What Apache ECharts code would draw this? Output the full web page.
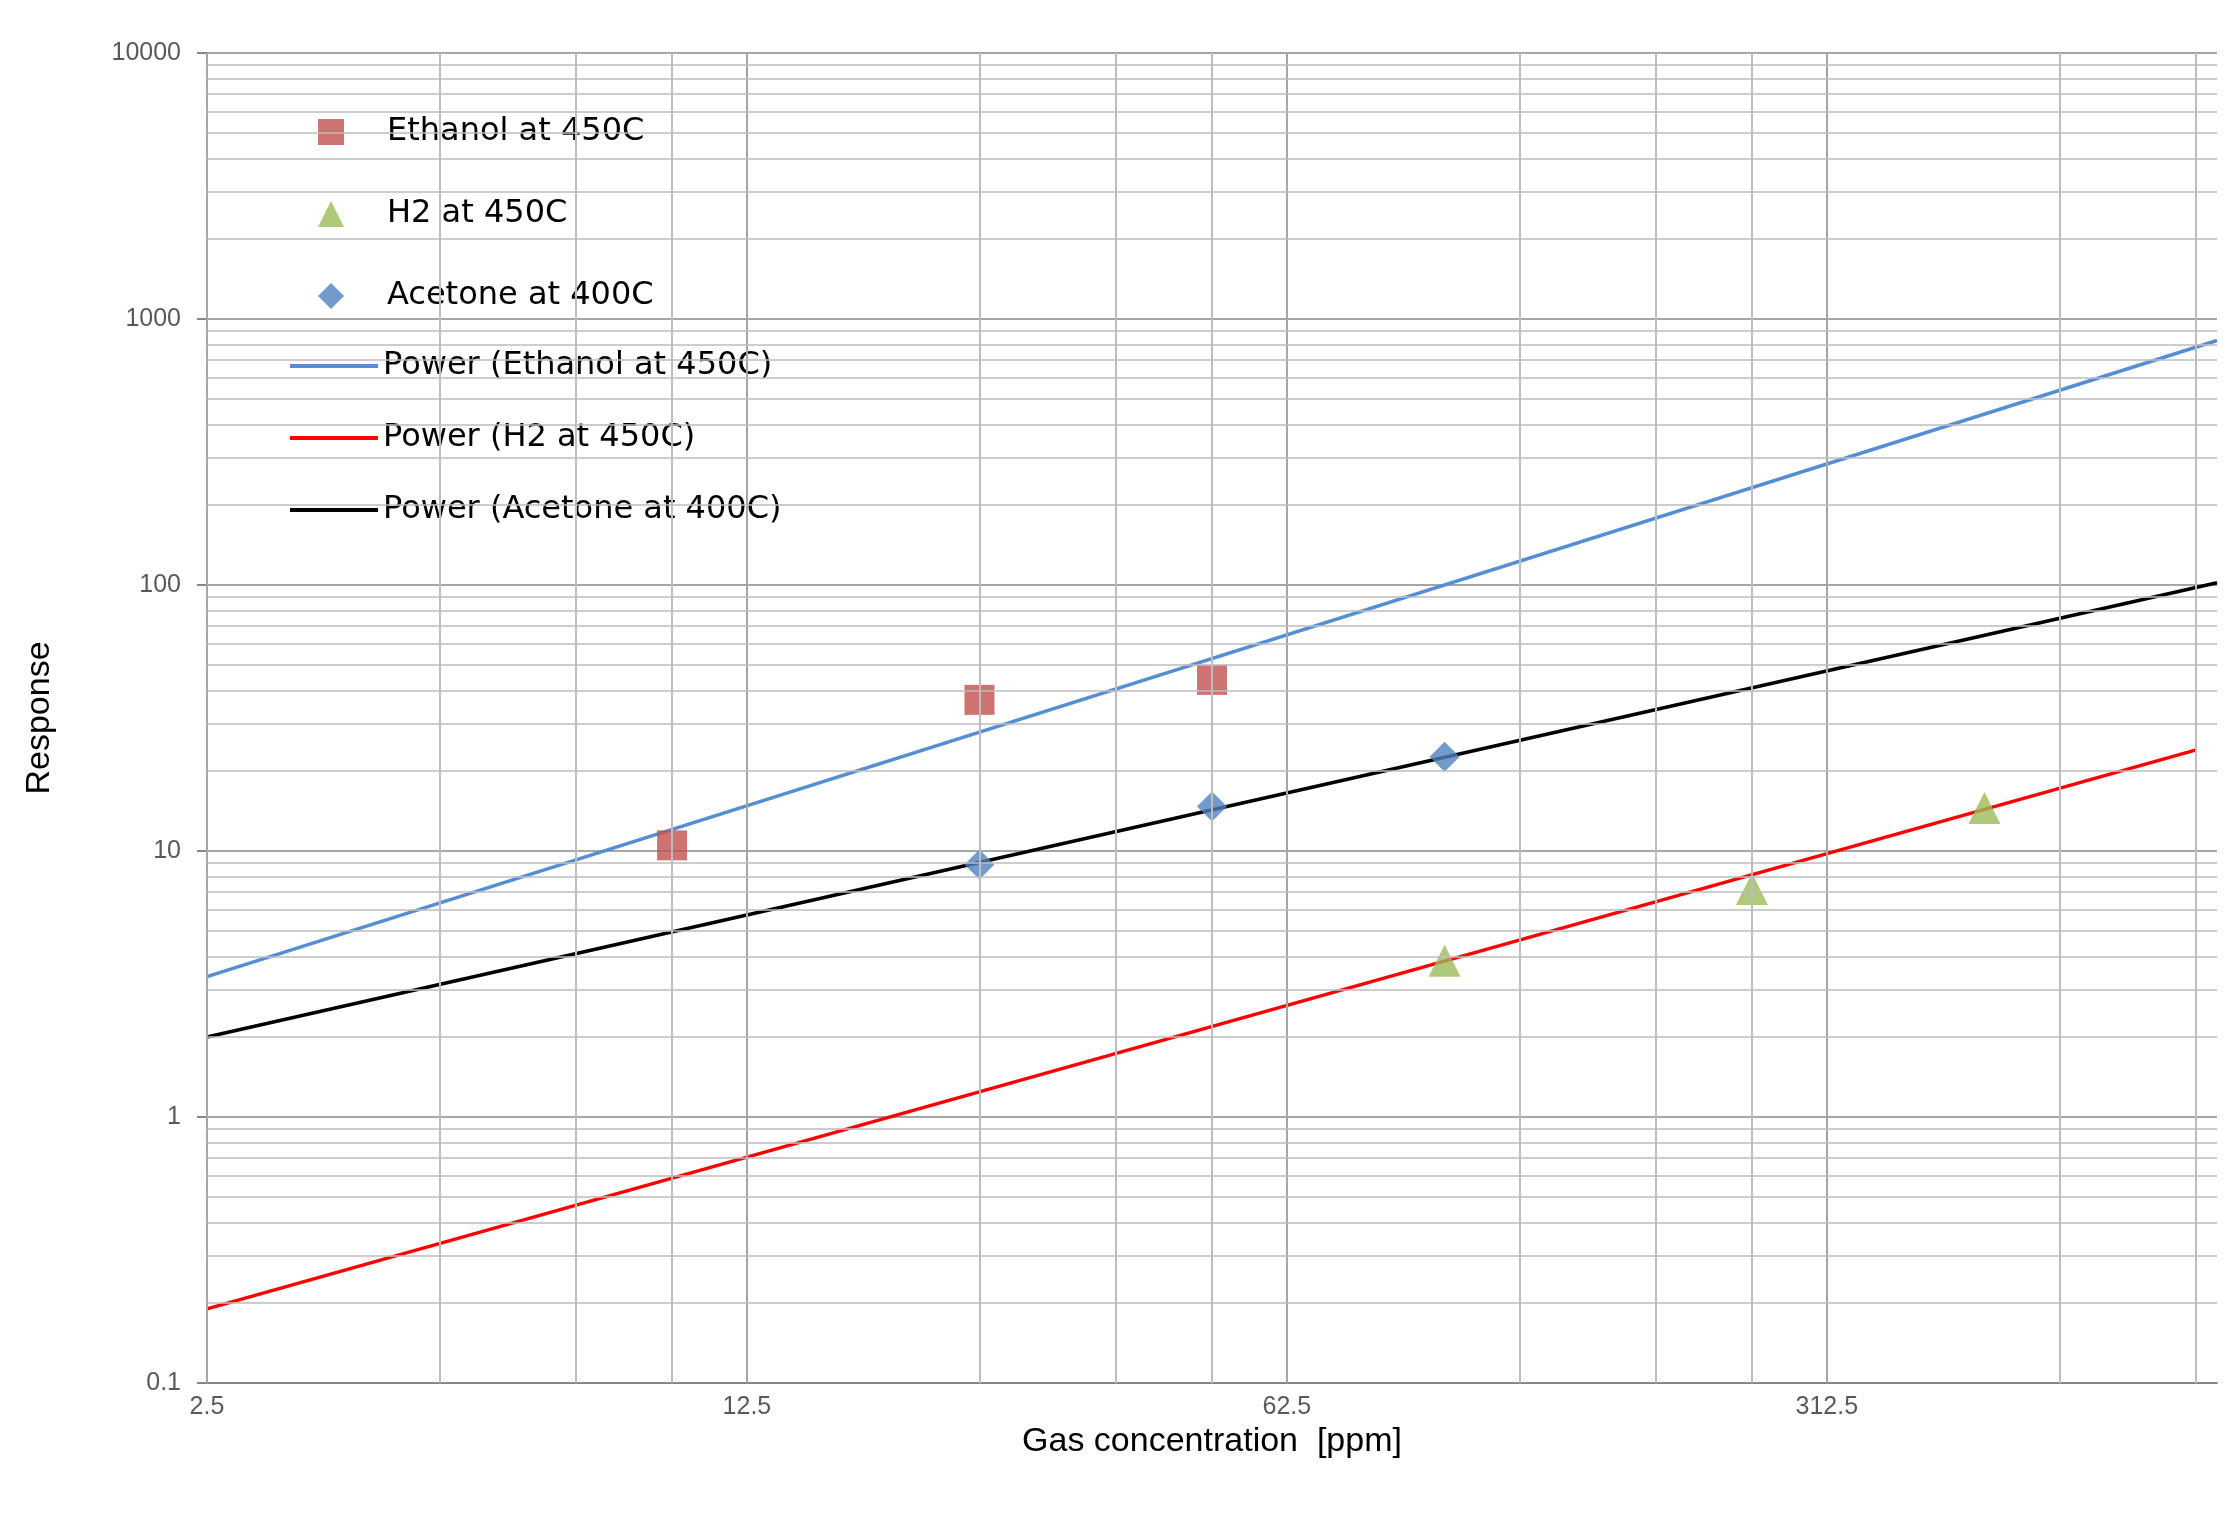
<!DOCTYPE html>
<html><head><meta charset="utf-8">
<script src="https://cdn.jsdelivr.net/npm/echarts@6/dist/echarts.min.js"></script>
<style>html,body{margin:0;padding:0;background:#fff}#c{width:2236px;height:1521px}</style>
</head><body><div id="c"></div>
<script>
const ethanol = [[10,10.5],[25,37],[50,44]];
const h2 = [[100,3.87],[250,7.2],[500,14.5]];
const acetone = [[25,8.9],[50,14.7],[100,22.6]];
const fitEthanol = [[2.5,3.37],[1000,830]];
const fitH2 = [[2.5,0.19],[940,24]];
const fitAcetone = [[2.5,2.0],[1000,102]];
const xMajor = [2.5,12.5,62.5,312.5];
const xMinor = [5,7.5,10,25,37.5,50,125,187.5,250,625,937.5];
const yMinorMult = [2,3,4,5,6,7,8,9];
const yDecades = [0.1,1,10,100,1000];

const F = 'Liberation Sans, Arial, sans-serif';
const LF = 'DejaVu Sans, Verdana, sans-serif';
const gridMarks = [];
xMajor.forEach(v=>gridMarks.push({xAxis:v,lineStyle:{color:'#a6a6a6',width:2,type:'solid'},
  label:{show:true,position:'start',formatter:String(v),color:'#595959',fontSize:25,fontFamily:F,distance:12}}));
xMinor.forEach(v=>gridMarks.push({xAxis:v,lineStyle:{color:'#bdbdbd',width:2,type:'solid'},label:{show:false}}));
yDecades.forEach(d=>yMinorMult.forEach(m=>gridMarks.push({yAxis:+(d*m).toPrecision(3),lineStyle:{color:'#bdbdbd',width:1.5,type:'solid'},label:{show:false}})));

const chart = echarts.init(document.getElementById('c'));
chart.setOption({
  animation:false,
  backgroundColor:'#fff',
  grid:{left:207,right:19,top:53,bottom:138},
  xAxis:{type:'log',logBase:5,min:2.5,max:1000,
    axisLabel:{show:false},splitLine:{show:false},axisTick:{show:false},
    axisLine:{lineStyle:{color:'#868686',width:2}},
    name:'Gas concentration  [ppm]',nameLocation:'middle',nameGap:42,
    nameTextStyle:{fontSize:34,fontFamily:F,color:'#000'}},
  yAxis:{type:'log',logBase:10,min:0.1,max:10000,
    axisLabel:{color:'#595959',fontSize:25,fontFamily:F,margin:26,formatter:v=>String(+v.toPrecision(3))},
    axisLine:{show:true,lineStyle:{color:'#868686',width:2}},
    axisTick:{show:true,length:10,inside:false,lineStyle:{color:'#868686',width:2}},
    splitLine:{show:true,lineStyle:{color:'#a6a6a6',width:2}},
    minorTick:{show:false},
    name:'Response',nameLocation:'middle',nameGap:150,
    nameTextStyle:{fontSize:34,fontFamily:F,color:'#000'}},
  legend:[
    {orient:'vertical',left:313,top:111,itemGap:50,itemWidth:26,itemHeight:26,itemTextGap:8,
     textStyle:{fontSize:32,fontFamily:LF,color:'#000',padding:[0,0,0,38]},
     data:[{name:'Ethanol at 450C',icon:'rect'},{name:'H2 at 450C',icon:'triangle'},{name:'Acetone at 400C',icon:'diamond'}]},
    {orient:'vertical',left:285,top:345,itemGap:40,itemWidth:88,itemHeight:40,itemTextGap:2,
     textStyle:{fontSize:32,fontFamily:LF,color:'#000'},
     data:['Power (Ethanol at 450C)','Power (H2 at 450C)','Power (Acetone at 400C)'].map(n=>({name:n,icon:'path://M0,18 L88,18 L88,22 L0,22 Z'}))}
  ],
  series:[
    {type:'scatter',name:'grid',data:[],silent:true,z:1,
     markLine:{silent:true,symbol:'none',animation:false,data:gridMarks}},
    {type:'line',name:'Power (Ethanol at 450C)',data:fitEthanol,showSymbol:false,symbol:'none',z:3,
     lineStyle:{color:'#558ED5',width:3.5},itemStyle:{color:'#558ED5'}},
    {type:'line',name:'Power (H2 at 450C)',data:fitH2,showSymbol:false,symbol:'none',z:3,
     lineStyle:{color:'#FF0000',width:3.5},itemStyle:{color:'#FF0000'}},
    {type:'line',name:'Power (Acetone at 400C)',data:fitAcetone,showSymbol:false,symbol:'none',z:3,
     lineStyle:{color:'#000000',width:3.5},itemStyle:{color:'#000000'}},
    {type:'scatter',name:'Ethanol at 450C',data:ethanol,symbol:'rect',symbolSize:30,z:4,itemStyle:{color:'#C0504D'}},
    {type:'scatter',name:'H2 at 450C',data:h2,symbol:'triangle',symbolSize:32,z:4,itemStyle:{color:'#9BBB59'}},
    {type:'scatter',name:'Acetone at 400C',data:acetone,symbol:'diamond',symbolSize:30,z:4,itemStyle:{color:'#4F81BD'}}
  ]
});
</script></body></html>
